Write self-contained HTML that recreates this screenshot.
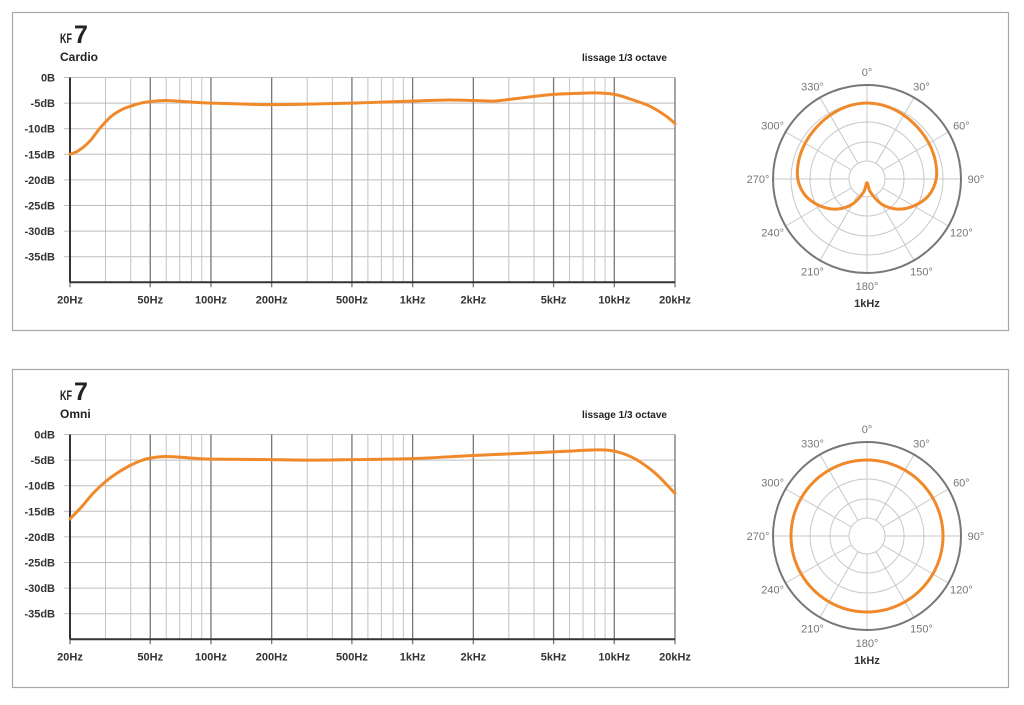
<!DOCTYPE html>
<html><head><meta charset="utf-8"><style>
body{margin:0;background:#fff;width:1024px;height:700px;overflow:hidden;font-family:"Liberation Sans",sans-serif}
svg text{font-family:"Liberation Sans",sans-serif}
</style></head><body>
<svg id="s" width="1024" height="700" xmlns="http://www.w3.org/2000/svg"></svg>
<script>
const freqTicks=[20,50,100,200,500,1000,2000,5000,10000,20000];
const freqLabels=["20Hz","50Hz","100Hz","200Hz","500Hz","1kHz","2kHz","5kHz","10kHz","20kHz"];
const minorFreqs=[30,40,60,70,80,90,300,400,600,700,800,900,3000,4000,6000,7000,8000,9000];
const dbTicks=[0,-5,-10,-15,-20,-25,-30,-35];
const dbLabelsTop=["0B","-5dB","-10dB","-15dB","-20dB","-25dB","-30dB","-35dB"];
const dbLabelsBot=["0dB","-5dB","-10dB","-15dB","-20dB","-25dB","-30dB","-35dB"];
const cardioFreqs=[20,22,25,28,32,36,40,45,50,60,80,100,150,200,300,500,1000,1500,2000,2500,3000,4000,5000,6500,8000,10000,12000,15000,18000,20000];
const cardioDb=[-15,-14.3,-12.5,-10,-7.6,-6.3,-5.6,-5.0,-4.7,-4.5,-4.8,-5.0,-5.2,-5.3,-5.2,-5.0,-4.6,-4.4,-4.5,-4.6,-4.3,-3.7,-3.3,-3.1,-3.0,-3.3,-4.2,-5.6,-7.5,-9];
const omniFreqs=[20,23,26,30,35,40,45,50,60,80,100,200,300,500,1000,2000,5000,8000,9500,11000,13000,16000,20000];
const omniDb=[-16.5,-14,-11.5,-9.2,-7.3,-6,-5.1,-4.6,-4.3,-4.6,-4.8,-4.9,-5,-4.9,-4.7,-4.1,-3.4,-3,-3.1,-3.7,-5.0,-7.6,-11.5];
const polarAngles=[0,15,30,45,60,75,90,105,120,135,150,165,180];
const cardioPolar=[1,0.99,0.97,0.95,0.94,0.93,0.91,0.84,0.71,0.56,0.38,0.18,0.05];
const omniPolar=[1,1,1,1,1,1,1,1,1,1,1,1,1];
const spokeLabels=["0°","30°","60°","90°","120°","150°","180°","210°","240°","270°","300°","330°"];

const S=document.getElementById('s');const NS='http://www.w3.org/2000/svg';
function el(t,a,p){const e=document.createElementNS(NS,t);for(const k in a)e.setAttribute(k,a[k]);(p||S).appendChild(e);return e;}
function txt(x,y,s,a,p){const e=el('text',Object.assign({x:x,y:y},a),p);e.textContent=s;return e;}
function spline(pts,closed){
  const n=pts.length;let d='M'+pts[0][0].toFixed(1)+','+pts[0][1].toFixed(1);
  const g=i=>closed?pts[(i+n)%n]:pts[Math.max(0,Math.min(n-1,i))];
  const m=closed?n:n-1;
  for(let i=0;i<m;i++){
    const p0=g(i-1),p1=g(i),p2=g(i+1),p3=g(i+2);
    d+=' C'+(p1[0]+(p2[0]-p0[0])/6).toFixed(1)+','+(p1[1]+(p2[1]-p0[1])/6).toFixed(1)+' '+(p2[0]-(p3[0]-p1[0])/6).toFixed(1)+','+(p2[1]-(p3[1]-p1[1])/6).toFixed(1)+' '+p2[0].toFixed(1)+','+p2[1].toFixed(1);
  }
  return d+(closed?'Z':'');
}

function panel(oy,label,fr,db,polar,dbLabels,name){
  const g=el('g',{});
  
  
  el('rect',{x:12.5,y:12.5+oy,width:996,height:318,fill:'#fff',stroke:'#a8a8a8','stroke-width':1.2},g);
  const t1=txt(60,43+oy,'KF',{'font-size':14,'font-weight':'bold',fill:'#222',textLength:12,lengthAdjust:'spacingAndGlyphs'},g);
  
  const t2=txt(74,43+oy,'7',{'font-size':25,'font-weight':'bold',fill:'#222'},g);
  
  const t3=txt(60,61+oy,label,{'font-size':12,'font-weight':'bold',fill:'#222'},g);
  
  const t4=txt(667,61+oy,'lissage 1/3 octave',{'font-size':10,'font-weight':'bold',fill:'#222','text-anchor':'end'},g);
  
  const x0=70,x1=675,y0=77.5+oy,step=25.6,yb=y0+8*step;
  const X=f=>x0+(Math.log10(f)-Math.log10(20))/3*(x1-x0);
  const Y=d=>y0-d/5*step;
  dbTicks.forEach((d,i)=>{
    el('line',{x1:x0-6,x2:x1,y1:Y(d),y2:Y(d),stroke:'#bdbdbd','stroke-width':1},g);
    const l=txt(55,Y(d)+4,dbLabels[i],{'font-size':11,'font-weight':'bold',fill:'#333','text-anchor':'end'},g);
    
  });
  minorFreqs.forEach(f=>el('line',{x1:X(f),x2:X(f),y1:y0,y2:yb,stroke:'#c4c4c4','stroke-width':1},g));
  freqTicks.forEach((f,i)=>{
    el('line',{x1:X(f),x2:X(f),y1:y0,y2:yb+5,stroke:'#777','stroke-width':1.3},g);
    const l=txt(X(f),yb+21,freqLabels[i],{'font-size':11,'font-weight':'bold',fill:'#333','text-anchor':'middle'},g);
    
  });
  el('line',{x1:x0,x2:x0,y1:y0,y2:yb,stroke:'#333','stroke-width':2},g);
  el('line',{x1:x0,x2:x1,y1:yb,y2:yb,stroke:'#333','stroke-width':2},g);
  const pts=fr.map((f,i)=>[X(f),Y(db[i])]);
  const c=el('path',{d:spline(pts,false),fill:'none',stroke:'#f0892a','stroke-width':3,'stroke-linecap':'round'},g);
  
  const cx=867,cy=179+oy,R=94,rings=[18,37,57,76];
  rings.forEach(r=>el('circle',{cx:cx,cy:cy,r:r,fill:'none',stroke:'#c8c8c8','stroke-width':1},g));
  spokeLabels.forEach((s,i)=>{
    const a=i*30*Math.PI/180,sx=Math.sin(a),cy2=-Math.cos(a);
    el('line',{x1:cx+sx*18,y1:cy+cy2*18,x2:cx+sx*R,y2:cy+cy2*R,stroke:'#c8c8c8','stroke-width':1},g);
    const l=txt(cx+sx*(R+15),cy+cy2*(R+13)+4,s,{'font-size':11,fill:'#777','text-anchor':'middle'},g);
    
  });
  el('circle',{cx:cx,cy:cy,r:R,fill:'none',stroke:'#777','stroke-width':2},g);
  const n=polarAngles.length;const all=[];
  for(let i=0;i<n;i++)all.push([polarAngles[i],polar[i]]);
  for(let i=n-2;i>0;i--)all.push([360-polarAngles[i],polar[i]]);
  const pp2=all.map(p=>{const a=p[0]*Math.PI/180,r=p[1]*76;return [cx+Math.sin(a)*r,cy-Math.cos(a)*r];});
  const pp=el('path',{d:spline(pp2,true),fill:'none',stroke:'#f0892a','stroke-width':3,'stroke-linejoin':'round'},g);
  
  const l=txt(cx,cy+128,'1kHz',{'font-size':11,'font-weight':'bold',fill:'#333','text-anchor':'middle'},g);
  
}
panel(0,'Cardio',cardioFreqs,cardioDb,cardioPolar,dbLabelsTop,'cardio');
panel(357,'Omni',omniFreqs,omniDb,omniPolar,dbLabelsBot,'omni');
</script>
</body></html>
